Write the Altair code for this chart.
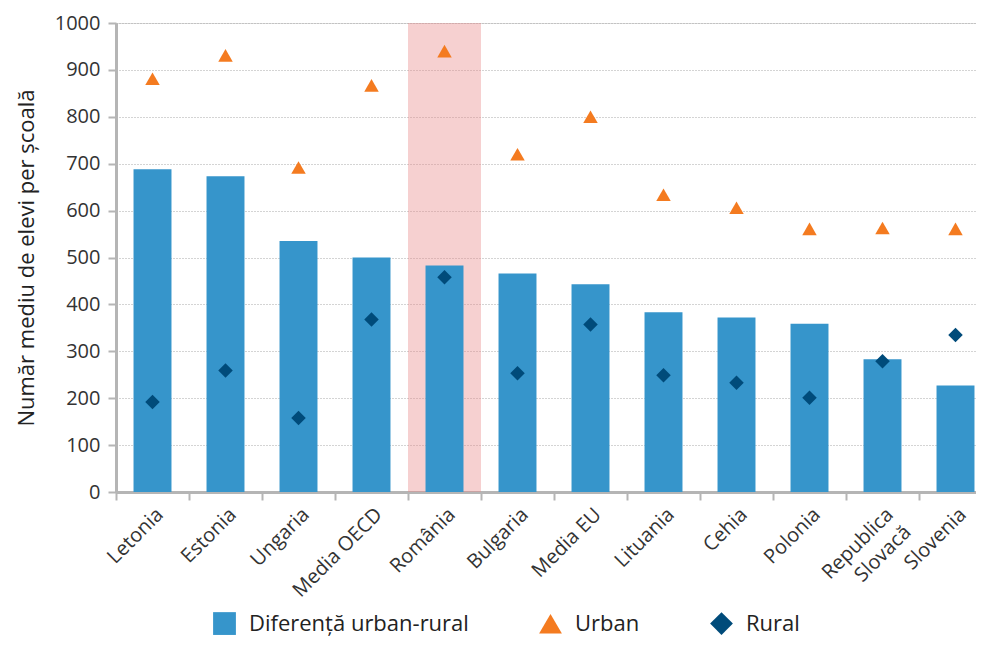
import altair as alt
import pandas as pd

categories = ["Letonia", "Estonia", "Ungaria", "Media OECD", "România", "Bulgaria",
              "Media EU", "Lituania", "Cehia", "Polonia", "Republica Slovacă", "Slovenia"]
diferenta = [688, 673, 535, 500, 483, 466, 443, 383, 372, 359, 283, 227]
urban = [881, 931, 692, 867, 940, 720, 800, 634, 606, 561, 563, 561]
rural = [192, 259, 158, 368, 458, 253, 357, 249, 233, 201, 279, 335]
highlight_cat = ["România"]
highlight_top = [1000]
series_names = ["Diferență urban-rural", "Urban", "Rural"]
series_colors = ["#3695cb", "#f47b20", "#004b7a"]
series_shapes = ["square", "triangle-up", "diamond"]
y_ticks = [0, 100, 200, 300, 400, 500, 600, 700, 800, 900, 1000]

FONT = "Open Sans"

bars_df = pd.DataFrame({"cat": categories, "val": diferenta, "series": series_names[0]})
pts_df = pd.concat([
    pd.DataFrame({"cat": categories, "val": urban, "series": series_names[1]}),
    pd.DataFrame({"cat": categories, "val": rural, "series": series_names[2]}),
], ignore_index=True)
hl_df = pd.DataFrame({"cat": highlight_cat, "val": highlight_top})

x_enc = alt.X(
    "cat:N", sort=categories, title=None,
    scale=alt.Scale(paddingInner=0, paddingOuter=0),
    axis=alt.Axis(
        labelAngle=-45, labelFontSize=20, labelColor="#333333", labelFont=FONT,
        tickBand="extent", tickSize=8, tickColor="#b5b5b5", tickWidth=2,
        domainColor="#b5b5b5", domainWidth=3, labelPadding=4, grid=False,
        labelLineHeight=25,
        labelExpr="datum.label == 'Republica Slovacă' ? ['Republica', 'Slovacă'] : datum.label",
    ),
)
y_enc = alt.Y(
    "val:Q",
    scale=alt.Scale(domain=[0, 1000], nice=False),
    axis=alt.Axis(
        values=y_ticks, format="d", title="Număr mediu de elevi per școală",
        titleFontSize=22, titleFontWeight="normal", titleColor="#222222", titleFont=FONT,
        labelFontSize=20, labelColor="#333333", labelFont=FONT,
        gridDash=[1, 2], gridColor="#a8a8a8", gridWidth=1,
        tickSize=8, tickColor="#b5b5b5", tickWidth=2,
        domainColor="#b5b5b5", domainWidth=3, labelPadding=8, titlePadding=16,
    ),
)

legend = alt.Legend(
    title=None, orient="none", legendX=97, legendY=589, direction="horizontal",
    symbolSize=520, labelFontSize=22, labelColor="#222222", labelFont=FONT,
    columnPadding=70, labelOffset=13, symbolStrokeWidth=0, symbolOpacity=1,
    labelLimit=400,
)
color_enc = alt.Color("series:N", scale=alt.Scale(domain=series_names, range=series_colors), legend=legend)
shape_enc = alt.Shape("series:N", scale=alt.Scale(domain=series_names, range=series_shapes), legend=legend)

hl = alt.Chart(hl_df).mark_bar(color="#e88a8a", opacity=0.4, width=alt.RelativeBandSize(1.0)).encode(
    x=x_enc, y=y_enc
)
bars = alt.Chart(bars_df).mark_bar(width=alt.RelativeBandSize(0.52)).encode(
    x=x_enc, y=y_enc, color=color_enc
)
pts = alt.Chart(pts_df).mark_point(filled=True, size=210, opacity=1).encode(
    x=x_enc, y=y_enc, color=color_enc, shape=shape_enc
)

chart = alt.layer(hl, bars, pts).properties(
    width=876, height=469,
    autosize=alt.AutoSizeParams(type="none"),
    padding={"left": 108, "top": 15, "right": -16, "bottom": 144},
).configure_view(stroke=None).configure(font=FONT)

chart.save("out.html", embed_options={"renderer": "svg", "actions": False})
